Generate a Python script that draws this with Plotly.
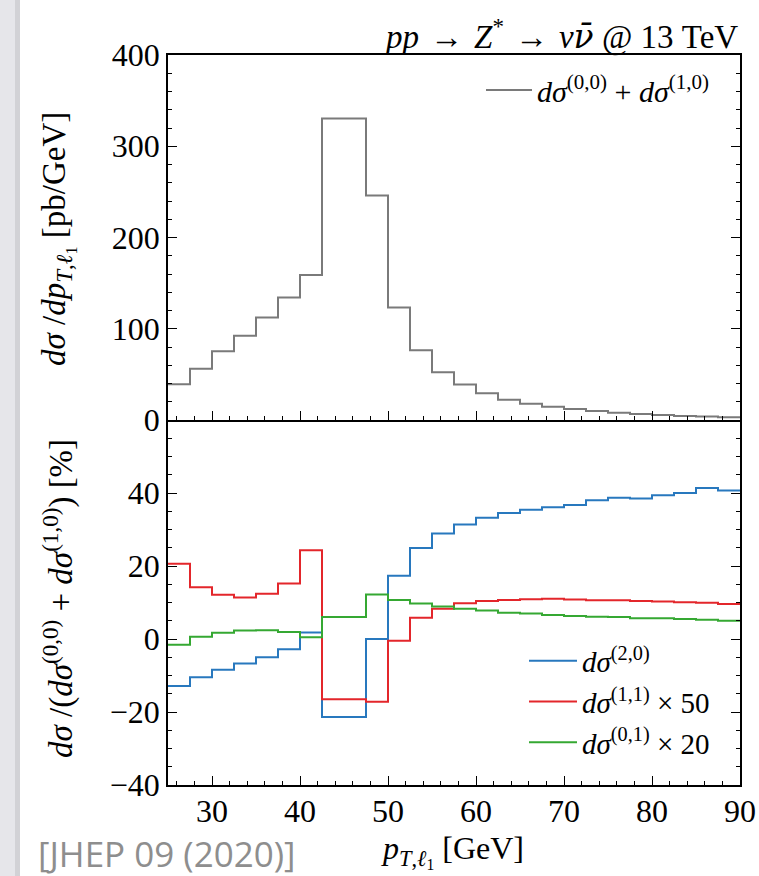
import plotly.graph_objects as go
from plotly.subplots import make_subplots

# ---------------- data ----------------
bin_edges = [25.0 + 2.5 * i for i in range(27)]  # 25 ... 90

sigma_lo_nlo = [39.2, 56.3, 75.4, 92.2, 112.3, 134.3, 158.8, 330.4, 330.4, 245.9,
                123.3, 76.5, 52.3, 38.8, 29.3, 22.3, 17.9, 14.6, 12.1, 9.9,
                8.0, 6.6, 5.5, 4.4, 3.7, 2.9]

ratio_20 = [-12.9, -10.5, -8.4, -6.7, -5.0, -2.8, 1.8, -21.4, -21.4, 0.0,
            17.3, 24.9, 28.9, 31.4, 33.2, 34.5, 35.4, 36.1, 36.7, 38.0,
            38.7, 38.5, 39.4, 40.0, 41.4, 40.7]

ratio_11_x50 = [20.6, 14.2, 12.1, 11.4, 12.4, 15.2, 24.3, -16.5, -16.5, -17.2,
                -0.5, 5.8, 8.3, 9.8, 10.4, 10.7, 10.9, 11.0, 10.8, 10.6,
                10.6, 10.4, 10.3, 10.1, 9.9, 9.6]

ratio_01_x20 = [-1.6, 0.6, 1.7, 2.3, 2.4, 1.9, 0.5, 6.0, 6.0, 12.2,
                10.7, 9.7, 8.9, 8.3, 7.8, 7.2, 7.0, 6.6, 6.3, 6.1,
                6.0, 5.7, 5.7, 5.5, 5.3, 5.0]

top_ticks = [0, 100, 200, 300, 400]
bottom_ticks = [-40, -20, 0, 20, 40]
x_ticks = [30, 40, 50, 60, 70, 80, 90]

SERIF = "Liberation Serif, DejaVu Serif, serif"


def steps(vals):
    return vals + [vals[-1]]


fig = make_subplots(rows=2, cols=1, shared_xaxes=True, vertical_spacing=0)

fig.add_trace(go.Scatter(
    x=bin_edges, y=steps(sigma_lo_nlo), mode="lines", line_shape="hv",
    line=dict(color="#7a7a7a", width=2),
    name="<i>dσ</i><sup>(0,0)</sup> + <i>dσ</i><sup>(1,0)</sup>",
    legend="legend"), row=1, col=1)

series = [
    (ratio_20, "#2878be", "<i>dσ</i><sup>(2,0)</sup>"),
    (ratio_11_x50, "#e3262b", "<i>dσ</i><sup>(1,1)</sup> × 50"),
    (ratio_01_x20, "#35a832", "<i>dσ</i><sup>(0,1)</sup> × 20"),
]
for vals, col, name in series:
    fig.add_trace(go.Scatter(
        x=bin_edges, y=steps(vals), mode="lines", line_shape="hv",
        line=dict(color=col, width=2), name=name, legend="legend2"),
        row=2, col=1)

TICKFONT = dict(family=SERIF, size=32, color="black")
axis_common = dict(
    showline=True, linecolor="black", linewidth=1.6, automargin=False,
    ticks="inside", ticklen=9, tickwidth=1.4, tickcolor="black",
    showgrid=False, zeroline=False, tickfont=TICKFONT,
)

fig.update_xaxes(**axis_common, range=[25, 90], tickvals=x_ticks,
                 minor=dict(dtick=2, tick0=0, ticks="inside", ticklen=4.5,
                            tickwidth=1.2, tickcolor="black"))
fig.update_xaxes(showticklabels=False, mirror=True, row=1, col=1)
fig.update_xaxes(mirror=False, ticklabelstandoff=-3, row=2, col=1)

fig.update_yaxes(**axis_common, mirror="ticks")
fig.update_yaxes(range=[0, 400], tickvals=top_ticks,
                 minor=dict(dtick=20, tick0=0, ticks="inside", ticklen=4.5,
                            tickwidth=1.2, tickcolor="black"),
                 row=1, col=1)
fig.update_yaxes(range=[-40, 60], tickvals=bottom_ticks,
                 minor=dict(dtick=5, tick0=0, ticks="inside", ticklen=4.5,
                            tickwidth=1.2, tickcolor="black"),
                 row=2, col=1)

L, R, T, B = 168, 19, 55, 91
W, H = 759, 876
PW, PH = W - L - R, H - T - B


def px_x(x):
    return (x - L) / PW


def px_y(y):
    return (H - B - y) / PH


SP = "\u2004"
NUBAR = "<span style=\"font-family:'DejaVu Serif'\"><i>ν̄</i></span>"
annotations = [
    dict(text=f"<i>pp</i>{SP}→{SP}<i>Z</i><sup>*</sup>{SP}→{SP}<i>ν</i>{NUBAR} @ 13 TeV",
         x=1.0, xanchor="right", y=px_y(35), yanchor="middle",
         font=dict(family=SERIF, size=33, color="black")),
    dict(text="<i>dσ</i> /<i>dp</i><sub><i>T</i>,<i>ℓ</i><sub>1</sub></sub> [pb/GeV]",
         x=px_x(58), xanchor="center", y=px_y(239), yanchor="middle",
         textangle=-90, font=dict(family=SERIF, size=33, color="black")),
    dict(text="<i>dσ</i> /(<i>dσ</i><sup>(0,0)</sup> + <i>dσ</i><sup>(1,0)</sup>) [%]",
         x=px_x(58), xanchor="center", y=px_y(599), yanchor="middle",
         textangle=-90, font=dict(family=SERIF, size=33, color="black")),
    dict(text="<i>p</i><sub><i>T</i>,<i>ℓ</i><sub>1</sub></sub> [GeV]",
         x=px_x(452), xanchor="center", y=px_y(851), yanchor="middle",
         font=dict(family=SERIF, size=32, color="black")),
    dict(text="[JHEP 09 (2020)]",
         x=px_x(36), xanchor="left", y=px_y(853), yanchor="middle",
         font=dict(family="Open Sans", size=35, color="#8e8e8e")),
]
for a in annotations:
    a.update(xref="paper", yref="paper", showarrow=False)

shapes = [
    dict(type="rect", xref="paper", yref="paper",
         x0=px_x(0), x1=px_x(20), y0=px_y(H), y1=px_y(0),
         fillcolor="#e6e6ea", line=dict(width=0), layer="below"),
    dict(type="rect", xref="paper", yref="paper",
         x0=px_x(15), x1=px_x(20), y0=px_y(H), y1=px_y(0),
         fillcolor="#d2d2d6", line=dict(width=0), layer="below"),
]

fig.update_layout(
    width=W, height=H,
    margin=dict(l=L, r=R, t=T, b=B, autoexpand=False),
    paper_bgcolor="white", plot_bgcolor="white",
    font=dict(family=SERIF, color="black"),
    annotations=annotations, shapes=shapes,
    showlegend=True,
    legend=dict(x=px_x(481), xanchor="left", y=px_y(90), yanchor="middle",
                bgcolor="rgba(0,0,0,0)", itemwidth=46,
                font=dict(family=SERIF, size=30, color="black")),
    legend2=dict(x=px_x(524), xanchor="left", y=px_y(702), yanchor="middle",
                 bgcolor="rgba(0,0,0,0)", itemwidth=48,
                 font=dict(family=SERIF, size=29, color="black")),
)

fig.write_html("out.html", config={"displayModeBar": False},
               post_script="document.body.style.margin='0px';"
                           "document.documentElement.style.overflow='hidden';")
